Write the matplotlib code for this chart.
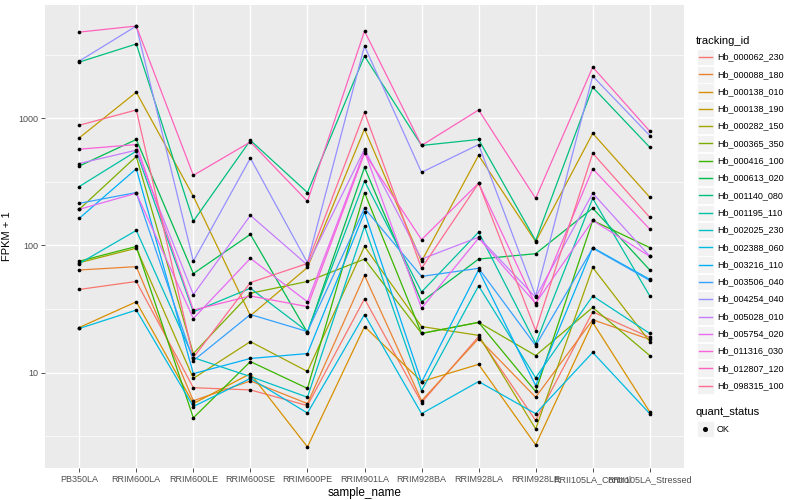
import numpy as np
import matplotlib
matplotlib.use("Agg")
import matplotlib.pyplot as plt
from matplotlib.lines import Line2D
from matplotlib.patches import Rectangle

plt.rcParams['font.family'] = ['Liberation Sans', 'DejaVu Sans']

samples = ["PB350LA", "RRIM600LA", "RRIM600LE", "RRIM600SE", "RRIM600PE", "RRIM901LA",
           "RRIM928BA", "RRIM928LA", "RRIM928LE", "RRII105LA_Control", "RRII105LA_Stressed"]

ids = ["Hb_000062_230", "Hb_000088_180", "Hb_000138_010", "Hb_000138_190", "Hb_000282_150",
       "Hb_000365_350", "Hb_000416_100", "Hb_000613_020", "Hb_001140_080", "Hb_001195_110",
       "Hb_002025_230", "Hb_002388_060", "Hb_003216_110", "Hb_003506_040", "Hb_004254_040",
       "Hb_005028_010", "Hb_005754_020", "Hb_011316_030", "Hb_012807_120", "Hb_098315_100"]

# ggplot hue palette, 20 levels
colors = ["#F8766D", "#EA8331", "#D89000", "#C09B00", "#A3A500", "#7CAE00", "#39B600", "#00BB4E",
          "#00BF7D", "#00C1A3", "#00BFC4", "#00BAE0", "#00B0F6", "#35A2FF", "#9590FF", "#C77CFF",
          "#E76BF3", "#FA62DB", "#FF62BC", "#FF6C91"]

# FPKM + 1 per sample
hb_000062_230 = [45, 52, 7.6, 7.3, 5.5, 38, 5.8, 19.2, 4.2, 30, 18.9]
hb_000088_180 = [64, 68, 6.0, 8.6, 5.7, 58, 6.0, 18.5, 6.4, 26, 18.2]
hb_000138_010 = [22.6, 36, 5.7, 9.8, 2.6, 23, 8.5, 11.6, 2.7, 24.8, 4.9]
hb_000138_190 = [700, 1600, 243, 28, 67, 820, 75, 510, 107, 760, 239]
hb_000282_150 = [73, 95, 9.0, 17.5, 10.2, 98, 23, 19.6, 3.6, 67, 17.5]
hb_000365_350 = [192, 500, 14.1, 42, 52, 78, 20.3, 24.8, 13.6, 32.5, 13.6]
hb_000416_100 = [75, 98, 4.4, 12.2, 7.5, 260, 20.3, 24.8, 7.1, 157, 96]
hb_000613_020 = [420, 680, 60, 122, 20.6, 410, 36, 78, 86, 196, 64]
hb_001140_080 = [2760, 3830, 155, 670, 260, 3080, 610, 680, 109, 1750, 590]
hb_001195_110 = [290, 550, 30, 46, 21, 320, 43, 127, 16.9, 234, 40]
hb_002025_230 = [72, 131, 13.1, 9.3, 6.4, 141, 7.2, 48, 9.1, 40, 20.3]
hb_002388_060 = [22.2, 31, 5.4, 9.0, 4.8, 28.6, 4.75, 8.5, 4.75, 14.4, 4.75]
hb_003216_110 = [163, 400, 9.8, 12.9, 14.1, 182, 8.4, 64, 7.9, 96, 54]
hb_003506_040 = [214, 260, 12.4, 28.6, 21, 196, 57, 66, 16.3, 95, 53]
hb_004254_040 = [2810, 5300, 75, 485, 73, 3690, 375, 620, 40, 2140, 730]
hb_005028_010 = [440, 560, 41, 172, 70, 570, 78, 116, 39, 257, 82]
hb_005754_020 = [192, 257, 26.6, 79, 36, 550, 32, 114, 35, 157, 82]
hb_011316_030 = [570, 620, 31, 40, 33, 530, 111, 308, 34, 400, 134]
hb_012807_120 = [4750, 5300, 355, 650, 222, 4840, 610, 1160, 234, 2520, 790]
hb_098315_100 = [880, 1160, 13.1, 51, 72, 1110, 66, 308, 21.4, 530, 166]

series = [hb_000062_230, hb_000088_180, hb_000138_010, hb_000138_190, hb_000282_150,
          hb_000365_350, hb_000416_100, hb_000613_020, hb_001140_080, hb_001195_110,
          hb_002025_230, hb_002388_060, hb_003216_110, hb_003506_040, hb_004254_040,
          hb_005028_010, hb_005754_020, hb_011316_030, hb_012807_120, hb_098315_100]

W, H = 800, 500
def fx(x):
    return x / W
def fy(y):
    return 1 - y / H

fig = plt.figure(figsize=(8, 5), dpi=100)
ax = fig.add_axes([fx(45), fy(468), (684 - 45) / W, (468 - 5) / H])
ax.set_facecolor("#EBEBEB")

xs = np.arange(len(samples))
for vals, col in zip(series, colors):
    ax.plot(xs, vals, color=col, lw=0.9, zorder=3)
for vals in series:
    ax.scatter(xs, vals, s=7, color="black", zorder=4, linewidths=0)

ax.set_yscale("log")
allv = np.log10(np.concatenate([np.array(s, float) for s in series]))
lo, hi = allv.min(), allv.max()
pad = 0.05 * (hi - lo)
ax.set_ylim(10 ** (lo - pad), 10 ** (hi + pad))
ax.set_xlim(-0.6, len(samples) - 0.4)

ax.set_yticks([10, 100, 1000])
ax.set_yticklabels(["10", "100", "1000"])
ax.set_yticks([10 ** 0.5, 10 ** 1.5, 10 ** 2.5, 10 ** 3.5], minor=True)
ax.yaxis.set_minor_formatter(plt.NullFormatter())
ax.set_xticks(xs)
ax.set_xticklabels(samples)

ax.grid(True, which="major", color="white", lw=1.0, zorder=0)
ax.grid(True, which="minor", axis="y", color="white", lw=0.5, zorder=0)
ax.set_axisbelow(True)
for s in ax.spines.values():
    s.set_visible(False)
ax.tick_params(which="major", length=3, width=0.6, color="#333333", labelsize=6.5,
               labelcolor="#4D4D4D", pad=2)
ax.tick_params(which="minor", length=0)

ax.set_xlabel("sample_name", fontsize=8.5, labelpad=2)
ax.set_ylabel("FPKM + 1", fontsize=8, labelpad=4)

# legend: tracking_id
fig.text(fx(696), fy(41), "tracking_id", fontsize=8, va="center", ha="left")
y0, dy = 57, 17.3
for i, (name, col) in enumerate(zip(ids, colors)):
    yc = y0 + i * dy
    fig.patches.append(Rectangle((fx(697), fy(yc + 8.2)), 16.5 / W, 16.4 / H,
                                 transform=fig.transFigure, facecolor="#F2F2F2",
                                 edgecolor="white", lw=0.6))
    fig.lines.append(Line2D([fx(699), fx(712)], [fy(yc), fy(yc)], transform=fig.transFigure,
                            color=col, lw=1.0))
    fig.text(fx(717), fy(yc), name, fontsize=6.5, va="center", ha="left")

# legend: quant_status
fig.text(fx(696), fy(412), "quant_status", fontsize=8, va="center", ha="left")
fig.patches.append(Rectangle((fx(697), fy(437.2)), 16.5 / W, 16.4 / H,
                             transform=fig.transFigure, facecolor="#F2F2F2",
                             edgecolor="white", lw=0.6))
fig.lines.append(Line2D([fx(705)], [fy(429)], transform=fig.transFigure, marker="o",
                        markersize=2.6, color="black", lw=0))
fig.text(fx(717), fy(429), "OK", fontsize=6.5, va="center", ha="left")

fig.savefig("out.png", dpi=100)
